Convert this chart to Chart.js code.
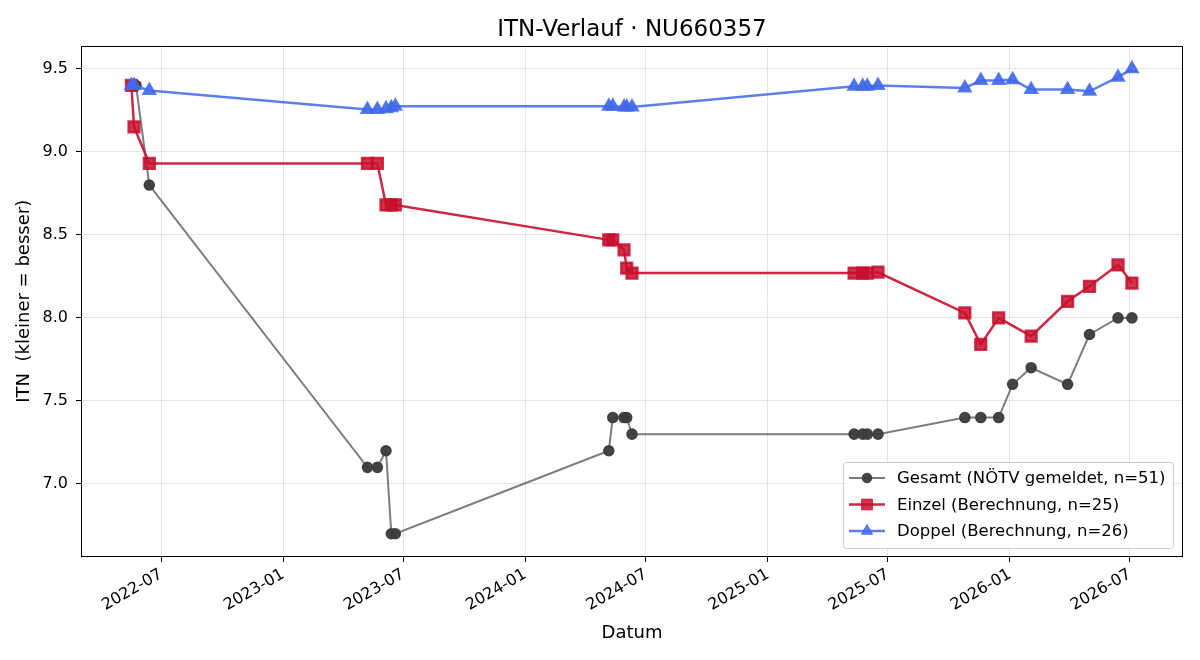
<!DOCTYPE html>
<html>
<head>
<meta charset="utf-8">
<script src="https://cdn.jsdelivr.net/npm/chart.js@4.4.1/dist/chart.umd.min.js"></script>
<style>
  html, body { margin: 0; background: #fff; }
</style>
</head>
<body>
<canvas id="itnChart" width="1200" height="660"></canvas>
<script>
// data
const gesamtDates = ['2022-05-24', '2022-06-13', '2023-05-08', '2023-05-23', '2023-06-05', '2023-06-13', '2023-06-19',
  '2024-05-06', '2024-05-12', '2024-05-29', '2024-06-02', '2024-06-10', '2025-05-11', '2025-05-24', '2025-05-31',
  '2025-06-16', '2025-10-25', '2025-11-18', '2025-12-15', '2026-01-05', '2026-02-02', '2026-03-29', '2026-05-01',
  '2026-06-13', '2026-07-04'];
const gesamtValues = [9.4, 8.8, 7.1, 7.1, 7.2, 6.7, 6.7, 7.2, 7.4, 7.4, 7.4, 7.3, 7.3, 7.3, 7.3, 7.3, 7.4, 7.4, 7.4,
  7.6, 7.7, 7.6, 7.9, 8.0, 8.0];

const einzelDates = ['2022-05-17', '2022-05-21', '2022-06-13', '2023-05-08', '2023-05-23', '2023-06-05', '2023-06-13',
  '2023-06-19', '2024-05-06', '2024-05-12', '2024-05-29', '2024-06-02', '2024-06-10', '2025-05-11', '2025-05-24',
  '2025-05-31', '2025-06-16', '2025-10-25', '2025-11-18', '2025-12-15', '2026-02-02', '2026-03-29', '2026-05-01',
  '2026-06-13', '2026-07-04'];
const einzelValues = [9.40, 9.15, 8.93, 8.93, 8.93, 8.68, 8.68, 8.68, 8.47, 8.47, 8.41, 8.30, 8.27, 8.27, 8.27, 8.27,
  8.275, 8.03, 7.84, 8.00, 7.89, 8.10, 8.19, 8.32, 8.21];

const doppelDates = ['2022-05-17', '2022-05-21', '2022-06-13', '2023-05-08', '2023-05-23', '2023-06-05', '2023-06-13',
  '2023-06-19', '2024-05-06', '2024-05-12', '2024-05-29', '2024-06-02', '2024-06-10', '2025-05-11', '2025-05-24',
  '2025-05-31', '2025-06-16', '2025-10-25', '2025-11-18', '2025-12-15', '2026-01-05', '2026-02-02', '2026-03-29',
  '2026-05-01', '2026-06-13', '2026-07-04'];
const doppelValues = [9.40, 9.40, 9.37, 9.255, 9.255, 9.26, 9.265, 9.275, 9.275, 9.275, 9.27, 9.27, 9.27, 9.395, 9.395,
  9.395, 9.40, 9.385, 9.43, 9.43, 9.435, 9.375, 9.375, 9.365, 9.45, 9.50];

const xTickLabels = ['2022-07', '2023-01', '2023-07', '2024-01', '2024-07', '2025-01', '2025-07', '2026-01', '2026-07'];
const yTickValues = [7.0, 7.5, 8.0, 8.5, 9.0, 9.5];

const seriesLabels = ['Gesamt (NÖTV gemeldet, n=51)', 'Einzel (Berechnung, n=25)', 'Doppel (Berechnung, n=26)'];

// dates -> day numbers (linear x axis, no date adapter needed)
function toDay(s) {
  const p = s.split('-').map(Number);
  return Date.UTC(p[0], p[1] - 1, p[2] || 1) / 86400000;
}
function toPoints(dates, values) {
  return dates.map((d, i) => ({ x: toDay(d), y: values[i] }));
}
const xTickDays = xTickLabels.map(toDay);

const FONT = "'DejaVu Sans', sans-serif";

// black frame round the plot area
const framePlugin = {
  id: 'frame',
  afterDatasetsDraw(chart) {
    const a = chart.chartArea;
    const ctx = chart.ctx;
    ctx.save();
    ctx.strokeStyle = '#000';
    ctx.lineWidth = 1;
    ctx.strokeRect(Math.round(a.left) + 0.5, Math.round(a.top) + 0.5,
      Math.round(a.right - a.left) - 1, Math.round(a.bottom - a.top) - 1);
    ctx.restore();
  }
};

// matplotlib-like legend box in the lower right corner
const legendBoxPlugin = {
  id: 'legendBox',
  afterDraw(chart) {
    const a = chart.chartArea;
    const ctx = chart.ctx;
    const w = 330, h = 86;
    const x0 = a.right - 10 - w, y0 = a.bottom - 9 - h;
    ctx.save();
    ctx.fillStyle = 'rgba(255,255,255,0.85)';
    ctx.strokeStyle = '#cccccc';
    ctx.lineWidth = 1;
    ctx.beginPath();
    ctx.roundRect(x0 + 0.5, y0 + 0.5, w, h, 3);
    ctx.fill();
    ctx.stroke();
    ctx.font = '16.5px ' + FONT;
    ctx.textBaseline = 'middle';
    chart.data.datasets.forEach((ds, i) => {
      const y = y0 + 16 + i * 26.5;
      ctx.strokeStyle = ds.borderColor;
      ctx.lineWidth = ds.borderWidth;
      ctx.beginPath();
      ctx.moveTo(x0 + 6, y);
      ctx.lineTo(x0 + 42, y);
      ctx.stroke();
      ctx.fillStyle = ds.pointBackgroundColor;
      ctx.strokeStyle = ds.pointBorderColor;
      ctx.lineWidth = 1;
      Chart.helpers.drawPoint(ctx, { pointStyle: ds.pointStyle, radius: ds.pointRadius, rotation: 0, borderWidth: 1 }, x0 + 24, y);
      ctx.fillStyle = '#000';
      ctx.fillText(seriesLabels[i], x0 + 54, y + 1);
    });
    ctx.restore();
  }
};

const config = {
  type: 'line',
  data: {
    datasets: [
      {
        label: seriesLabels[0],
        data: toPoints(gesamtDates, gesamtValues),
        borderColor: 'rgba(70,70,70,0.7)',
        borderWidth: 2,
        pointStyle: 'circle',
        pointRadius: 4.8,
        pointBackgroundColor: 'rgba(60,60,60,0.95)',
        pointBorderColor: 'rgba(60,60,60,0.95)',
        order: 2
      },
      {
        label: seriesLabels[1],
        data: toPoints(einzelDates, einzelValues),
        borderColor: 'rgba(200,16,46,0.9)',
        borderWidth: 2.5,
        pointStyle: 'rect',
        pointRadius: 7.6,
        pointBackgroundColor: 'rgba(200,16,46,0.85)',
        pointBorderColor: 'rgba(200,16,46,0.85)',
        order: 1
      },
      {
        label: seriesLabels[2],
        data: toPoints(doppelDates, doppelValues),
        borderColor: 'rgba(65,105,235,0.85)',
        borderWidth: 2.5,
        pointStyle: 'triangle',
        pointRadius: 6.5,
        pointBackgroundColor: 'rgba(65,105,235,0.85)',
        pointBorderColor: 'rgba(65,105,235,0.85)',
        order: 0
      }
    ]
  },
  options: {
    responsive: false,
    animation: false,
    devicePixelRatio: 1,
    layout: { padding: { left: 0, right: 17, top: 0, bottom: 0 } },
    plugins: {
      legend: { display: false },
      tooltip: { enabled: false },
      title: {
        display: true,
        fullSize: false, // centre over the plot area like matplotlib
        text: 'ITN-Verlauf · NU660357',
        color: '#000',
        font: { family: FONT, size: 23, weight: 'normal' },
        padding: { top: 16, bottom: 2 }
      }
    },
    scales: {
      x: {
        type: 'linear',
        min: toDay('2022-03-02'),
        max: toDay('2026-09-19'),
        afterBuildTicks(scale) { scale.ticks = xTickDays.map(v => ({ value: v })); },
        afterFit(scale) { scale.height = 103; },
        ticks: {
          autoSkip: false,
          minRotation: 30,
          maxRotation: 30,
          padding: 3,
          color: '#000',
          font: { family: FONT, size: 16 },
          callback(v) {
            const i = xTickDays.indexOf(v);
            return i >= 0 ? xTickLabels[i] : '';
          }
        },
        grid: { color: 'rgba(0,0,0,0.1)', tickColor: '#000', tickLength: 5 },
        border: { display: false },
        title: {
          display: true,
          text: 'Datum',
          color: '#000',
          font: { family: FONT, size: 18 },
          padding: { top: 0, bottom: 16 }
        }
      },
      y: {
        min: 6.56,
        max: 9.64,
        afterBuildTicks(scale) { scale.ticks = yTickValues.map(v => ({ value: v })); },
        afterFit(scale) { scale.width = 81; },
        ticks: {
          padding: 8,
          color: '#000',
          font: { family: FONT, size: 16 },
          callback(v) { return v.toFixed(1); }
        },
        grid: { color: 'rgba(0,0,0,0.1)', tickColor: '#000', tickLength: 5 },
        border: { display: false },
        title: {
          display: true,
          text: 'ITN  (kleiner = besser)',
          color: '#000',
          font: { family: FONT, size: 18 },
          padding: { top: 14, bottom: 0 }
        }
      }
    }
  },
  plugins: [framePlugin, legendBoxPlugin]
};

new Chart(document.getElementById('itnChart'), config);
</script>
</body>
</html>
